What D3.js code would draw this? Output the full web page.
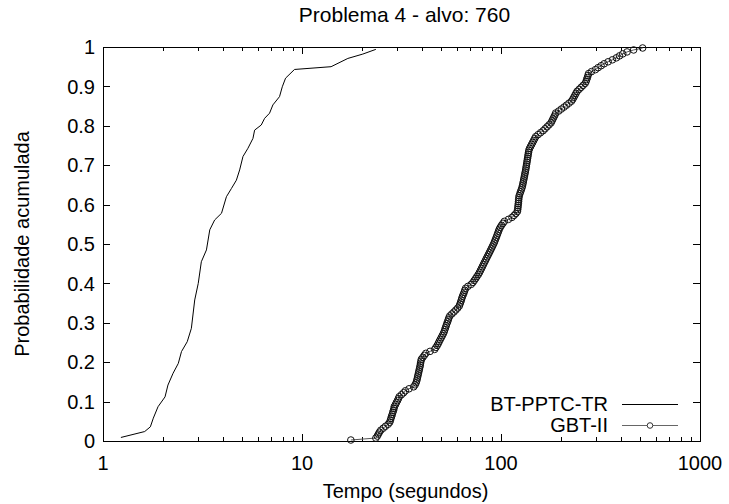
<!DOCTYPE html>
<html>
<head>
<meta charset="utf-8">
<script src="https://cdn.jsdelivr.net/npm/d3@7"></script>
<style>
  html, body { margin: 0; padding: 0; background: #fff; }
  svg text { font-family: "Liberation Sans", Arial, sans-serif; fill: #000; }
</style>
</head>
<body>
<div id="chart"></div>
<script>
// data
const TITLE = "Problema 4 - alvo: 760";
const X_LABEL = "Tempo (segundos)";
const Y_LABEL = "Probabilidade acumulada";
const X_TICKS = [1, 10, 100, 1000];
const Y_TICKS = [0, 0.1, 0.2, 0.3, 0.4, 0.5, 0.6, 0.7, 0.8, 0.9, 1];
const SERIES_NAMES = ["BT-PPTC-TR", "GBT-II"];

// BT-PPTC-TR: tempo (s) / probabilidade
const btTime = [1.23, 1.62, 1.73, 1.79, 1.89, 2.05, 2.12, 2.25, 2.39, 2.48, 2.65, 2.78, 2.89, 3.01,
  3.12, 3.31, 3.44, 3.64, 3.94, 4.17, 4.42, 4.68, 4.86, 5.05, 5.35, 5.67, 5.78, 6.24, 6.49, 6.87,
  7.14, 7.71, 7.96, 8.27, 9.17, 14.0, 17.0, 20.2, 23.5];
const btProb = [0.009, 0.024, 0.036, 0.058, 0.087, 0.112, 0.142, 0.172, 0.197, 0.227, 0.252, 0.286,
  0.358, 0.400, 0.455, 0.485, 0.536, 0.561, 0.578, 0.620, 0.641, 0.662, 0.688, 0.722, 0.743, 0.768,
  0.789, 0.802, 0.819, 0.832, 0.853, 0.874, 0.899, 0.921, 0.943, 0.950, 0.971, 0.982, 0.994];

// GBT-II: 200 tempos ordenados (probabilidade = (i+0.5)/200)
const gbtTime = [
  17.6, 23.5, 23.9, 24.2, 24.5, 24.9, 25.6, 26.3, 27.1, 27.6,
  27.8, 28.0, 28.2, 28.4, 28.6, 28.8, 29.0, 29.1, 29.5, 29.8,
  30.2, 30.5, 30.8, 31.6, 32.4, 33.1, 34.5, 36.4, 37.0, 37.4,
  37.7, 37.9, 38.1, 38.3, 38.5, 38.7, 38.9, 39.1, 39.3, 39.4,
  39.6, 39.8, 40.5, 41.2, 41.9, 44.0, 46.4, 47.1, 47.8, 48.4,
  48.9, 49.5, 50.1, 50.7, 51.3, 51.8, 52.2, 52.6, 53.0, 53.4,
  53.9, 54.3, 54.7, 55.3, 56.6, 58.0, 59.3, 60.6, 61.7, 62.2,
  62.7, 63.2, 63.6, 64.1, 64.7, 65.3, 65.8, 66.4, 68.2, 70.8,
  72.3, 73.4, 74.6, 75.7, 76.9, 77.9, 78.8, 79.7, 80.6, 81.5,
  82.4, 83.4, 84.3, 85.3, 86.3, 87.3, 88.3, 89.3, 90.3, 91.3,
  92.3, 93.1, 93.9, 94.8, 95.6, 96.4, 97.2, 98.0, 99.2, 100.6,
  102.3, 104.0, 109.0, 113.5, 116.3, 118.8, 120.9, 121.3, 121.6, 121.9,
  122.2, 122.5, 122.7, 123.0, 123.4, 124.4, 125.4, 126.4, 127.4, 128.2,
  128.8, 129.4, 130.0, 130.6, 131.2, 131.8, 132.4, 133.0, 133.5, 134.0,
  134.5, 135.0, 135.5, 136.0, 136.5, 137.0, 137.5, 138.0, 139.2, 140.8,
  142.5, 144.2, 145.9, 147.6, 149.4, 153.5, 158.0, 162.8, 166.5, 170.4,
  174.4, 178.4, 180.4, 182.4, 184.5, 186.6, 188.3, 195.0, 201.0, 207.4,
  213.6, 219.8, 226.1, 229.5, 232.4, 235.3, 238.2, 241.2, 246.8, 252.6,
  258.5, 264.6, 267.6, 269.6, 271.6, 273.6, 275.6, 285.0, 298.0, 307.5,
  318.5, 330.0, 345.5, 363.0, 380.0, 394.0, 409.0, 430.0, 464.0, 515.0
];

// layout
const W = 729, H = 504;
const m = { top: 47, right: 29, bottom: 63, left: 103 };
const innerW = W - m.left - m.right, innerH = H - m.top - m.bottom;

const svg = d3.select("#chart").append("svg").attr("width", W).attr("height", H);
const g = svg.append("g").attr("transform", `translate(${m.left},${m.top})`);

const x = d3.scaleLog().domain([1, 1000]).range([0, innerW]);
const y = d3.scaleLinear().domain([0, 1]).range([innerH, 0]);

// minor ticks of the log axis
const minor = [];
for (let d = 1; d < 1000; d *= 10) for (let k = 2; k <= 9; k++) minor.push(d * k);

const tk = g.append("g").attr("stroke", "#000").attr("stroke-width", 1);
// x ticks, bottom + top (mirror)
X_TICKS.forEach(v => {
  const px = Math.round(x(v)) + 0.5;
  tk.append("line").attr("x1", px).attr("x2", px).attr("y1", innerH).attr("y2", innerH - 7);
  tk.append("line").attr("x1", px).attr("x2", px).attr("y1", 0).attr("y2", 7);
});
minor.forEach(v => {
  const px = Math.round(x(v)) + 0.5;
  tk.append("line").attr("x1", px).attr("x2", px).attr("y1", innerH).attr("y2", innerH - 4);
  tk.append("line").attr("x1", px).attr("x2", px).attr("y1", 0).attr("y2", 4);
});
// y ticks, left + right
Y_TICKS.forEach(v => {
  const py = Math.round(y(v)) + 0.5;
  tk.append("line").attr("x1", 0).attr("x2", 7).attr("y1", py).attr("y2", py);
  tk.append("line").attr("x1", innerW).attr("x2", innerW - 7).attr("y1", py).attr("y2", py);
});

// frame
g.append("rect").attr("x", 0.5).attr("y", 0.5).attr("width", innerW).attr("height", innerH)
  .attr("fill", "none").attr("stroke", "#000").attr("stroke-width", 1);

// tick labels
g.append("g").selectAll("text").data(Y_TICKS).join("text")
  .attr("x", -8).attr("y", d => y(d)).attr("dy", "0.36em")
  .attr("text-anchor", "end").style("font-size", "20px")
  .text(d => d3.format("~g")(d));

g.append("g").selectAll("text").data(X_TICKS).join("text")
  .attr("x", d => x(d)).attr("y", innerH + 29)
  .attr("text-anchor", "middle").style("font-size", "20px")
  .text(d => d);

// titles
svg.append("text").attr("x", m.left + innerW / 2 + 3).attr("y", 22)
  .attr("text-anchor", "middle").style("font-size", "21px").text(TITLE);
svg.append("text").attr("x", m.left + innerW / 2 + 4).attr("y", 498)
  .attr("text-anchor", "middle").style("font-size", "20px").text(X_LABEL);
svg.append("text").attr("transform", `translate(29,${m.top + innerH / 2}) rotate(-90)`)
  .attr("text-anchor", "middle").style("font-size", "20px").text(Y_LABEL);

// series
const line = d3.line().x(d => x(d[0])).y(d => y(d[1]));
const btData = btTime.map((t, i) => [t, btProb[i]]);
const gbtData = gbtTime.map((t, i) => [t, (i + 0.5) / gbtTime.length]);

g.append("path").datum(btData).attr("d", line)
  .attr("fill", "none").attr("stroke", "#000").attr("stroke-width", 1);

g.append("path").datum(gbtData).attr("d", line)
  .attr("fill", "none").attr("stroke", "#555").attr("stroke-width", 1);
g.append("g").selectAll("circle").data(gbtData).join("circle")
  .attr("cx", d => x(d[0])).attr("cy", d => y(d[1])).attr("r", 3.3)
  .attr("fill", "none").attr("stroke", "#111").attr("stroke-width", 1);

// legend
const lg = svg.append("g");
const lgRows = [{ name: SERIES_NAMES[0], y: 404, color: "#000", mark: false },
                { name: SERIES_NAMES[1], y: 425, color: "#666", mark: true }];
lgRows.forEach(r => {
  lg.append("text").attr("x", 608).attr("y", r.y).attr("dy", "0.36em")
    .attr("text-anchor", "end").style("font-size", "20px").text(r.name);
  lg.append("line").attr("x1", 622).attr("x2", 678).attr("y1", r.y + 0.5).attr("y2", r.y + 0.5)
    .attr("stroke", r.color).attr("stroke-width", 1);
  if (r.mark) lg.append("circle").attr("cx", 650).attr("cy", r.y + 0.5).attr("r", 2.8)
    .attr("fill", "#fff").attr("stroke", "#333");
});
</script>
</body>
</html>
